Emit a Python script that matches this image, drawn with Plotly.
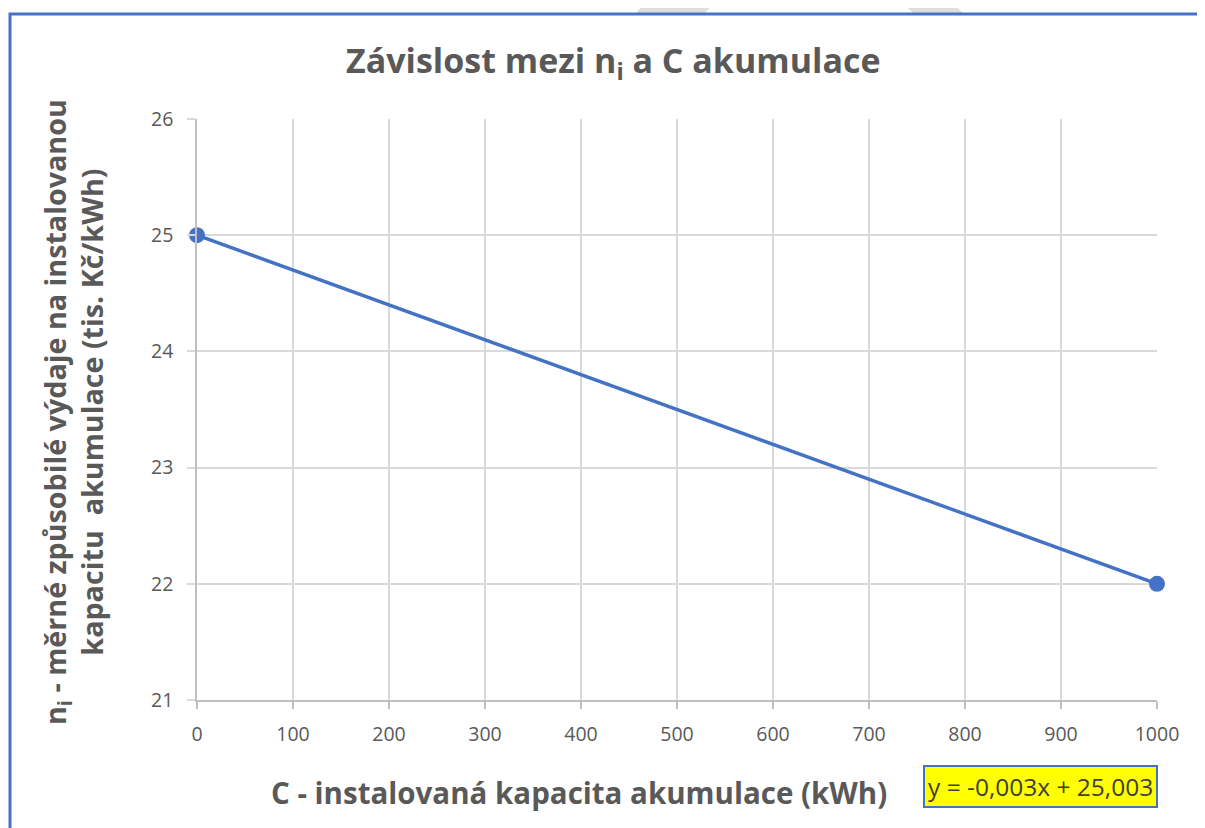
import plotly.graph_objects as go

# Data
capacity_kwh = [0, 1000]
cost_tis_kc = [25, 22]
x_ticks = [0, 100, 200, 300, 400, 500, 600, 700, 800, 900, 1000]
y_ticks = [21, 22, 23, 24, 25, 26]
title_text = "Závislost mezi n<sub>i</sub> a C akumulace"
x_title = "C - instalovaná kapacita akumulace (kWh)"
y_title = "n<sub>i</sub> - měrné způsobilé výdaje na instalovanou<br>kapacitu  akumulace (tis. Kč/kWh)"
equation = "y = -0,003x + 25,003"

OFF = 8  # page body margin
W, H = 1205 - OFF, 828 - OFF
# plot area in page pixels
L, R, T, B = 197, 1157, 119, 700


def px(xp):
    return (xp - L) / (R - L)


def py(yp):
    return (B - yp) / (B - T)


BLUE = "#4472C4"
GRAY = "#595959"
GRID = "#d9d9d9"
FONT = "Open Sans"

fig = go.Figure()
fig.add_trace(go.Scatter(
    x=capacity_kwh, y=cost_tis_kc, mode="lines+markers",
    line=dict(color=BLUE, width=3.4),
    marker=dict(color=BLUE, size=16),
    cliponaxis=False, showlegend=False, hoverinfo="x+y",
))

fig.update_layout(
    width=W, height=H,
    margin=dict(l=L - OFF, r=W - (R - OFF), t=T - OFF, b=H - (B - OFF)),
    plot_bgcolor="white", paper_bgcolor="white",
    font=dict(family=FONT, color=GRAY),
    xaxis=dict(range=[0, 1000], tickvals=x_ticks, showgrid=True, gridcolor=GRID, gridwidth=1.5,
               zeroline=False, showline=True, linecolor="#bfbfbf", linewidth=1.5,
               ticks="outside", ticklen=7, tickcolor="#bfbfbf", tickwidth=1.5,
               ticklabelstandoff=9,
               tickfont=dict(size=19.5, color=GRAY, family=FONT)),
    yaxis=dict(range=[21, 26], tickvals=y_ticks, showgrid=True, gridcolor=GRID, gridwidth=1.5,
               zeroline=False, showline=True, linecolor="#bfbfbf", linewidth=1.5,
               ticks="outside", ticklen=8, tickcolor=GRID, tickwidth=1.5,
               ticklabelstandoff=10,
               tickfont=dict(size=19.5, color=GRAY, family=FONT)),
)

shapes = []
# outer blue border
shapes.append(dict(type="rect", xref="paper", yref="paper",
                   x0=px(10), x1=px(1225), y0=py(845), y1=py(14),
                   line=dict(color=BLUE, width=3), fillcolor="rgba(0,0,0,0)", layer="above"))
# faint watermark stripes at top
shapes.append(dict(type="path", xref="paper", yref="paper",
                   path=f"M {px(636)} {py(13)} L {px(647)} {py(0)} L {px(717)} {py(0)} L {px(705)} {py(13)} Z",
                   fillcolor="#dedede", line=dict(width=0), layer="below"))
shapes.append(dict(type="path", xref="paper", yref="paper",
                   path=f"M {px(900)} {py(0)} L {px(950)} {py(0)} L {px(963)} {py(13)} L {px(913)} {py(13)} Z",
                   fillcolor="#dedede", line=dict(width=0), layer="below"))
fig.update_layout(shapes=shapes)

ann = []
ann.append(dict(text=f"<b>{title_text}</b>", xref="paper", yref="paper", x=px(613), y=py(62),
                showarrow=False, font=dict(size=34, color=GRAY, family=FONT), xanchor="center", yanchor="middle"))
ann.append(dict(text=f"<b>{y_title}</b>", xref="paper", yref="paper", x=px(73), y=py(412),
                showarrow=False, textangle=-90, font=dict(size=28.7, color=GRAY, family=FONT),
                xanchor="center", yanchor="middle"))
ann.append(dict(text=f"<b>{x_title}</b>", xref="paper", yref="paper", x=px(579), y=py(793),
                showarrow=False, font=dict(size=29.5, color=GRAY, family=FONT), xanchor="center", yanchor="middle"))
ann.append(dict(text=equation, xref="paper", yref="paper", x=px(1040), y=py(786),
                showarrow=False, font=dict(size=24.5, color="#404040", family=FONT),
                bgcolor="#ffff00", bordercolor=BLUE, borderwidth=2, borderpad=3,
                xanchor="center", yanchor="middle"))
fig.update_layout(annotations=ann)

fig.write_html("out.html")
